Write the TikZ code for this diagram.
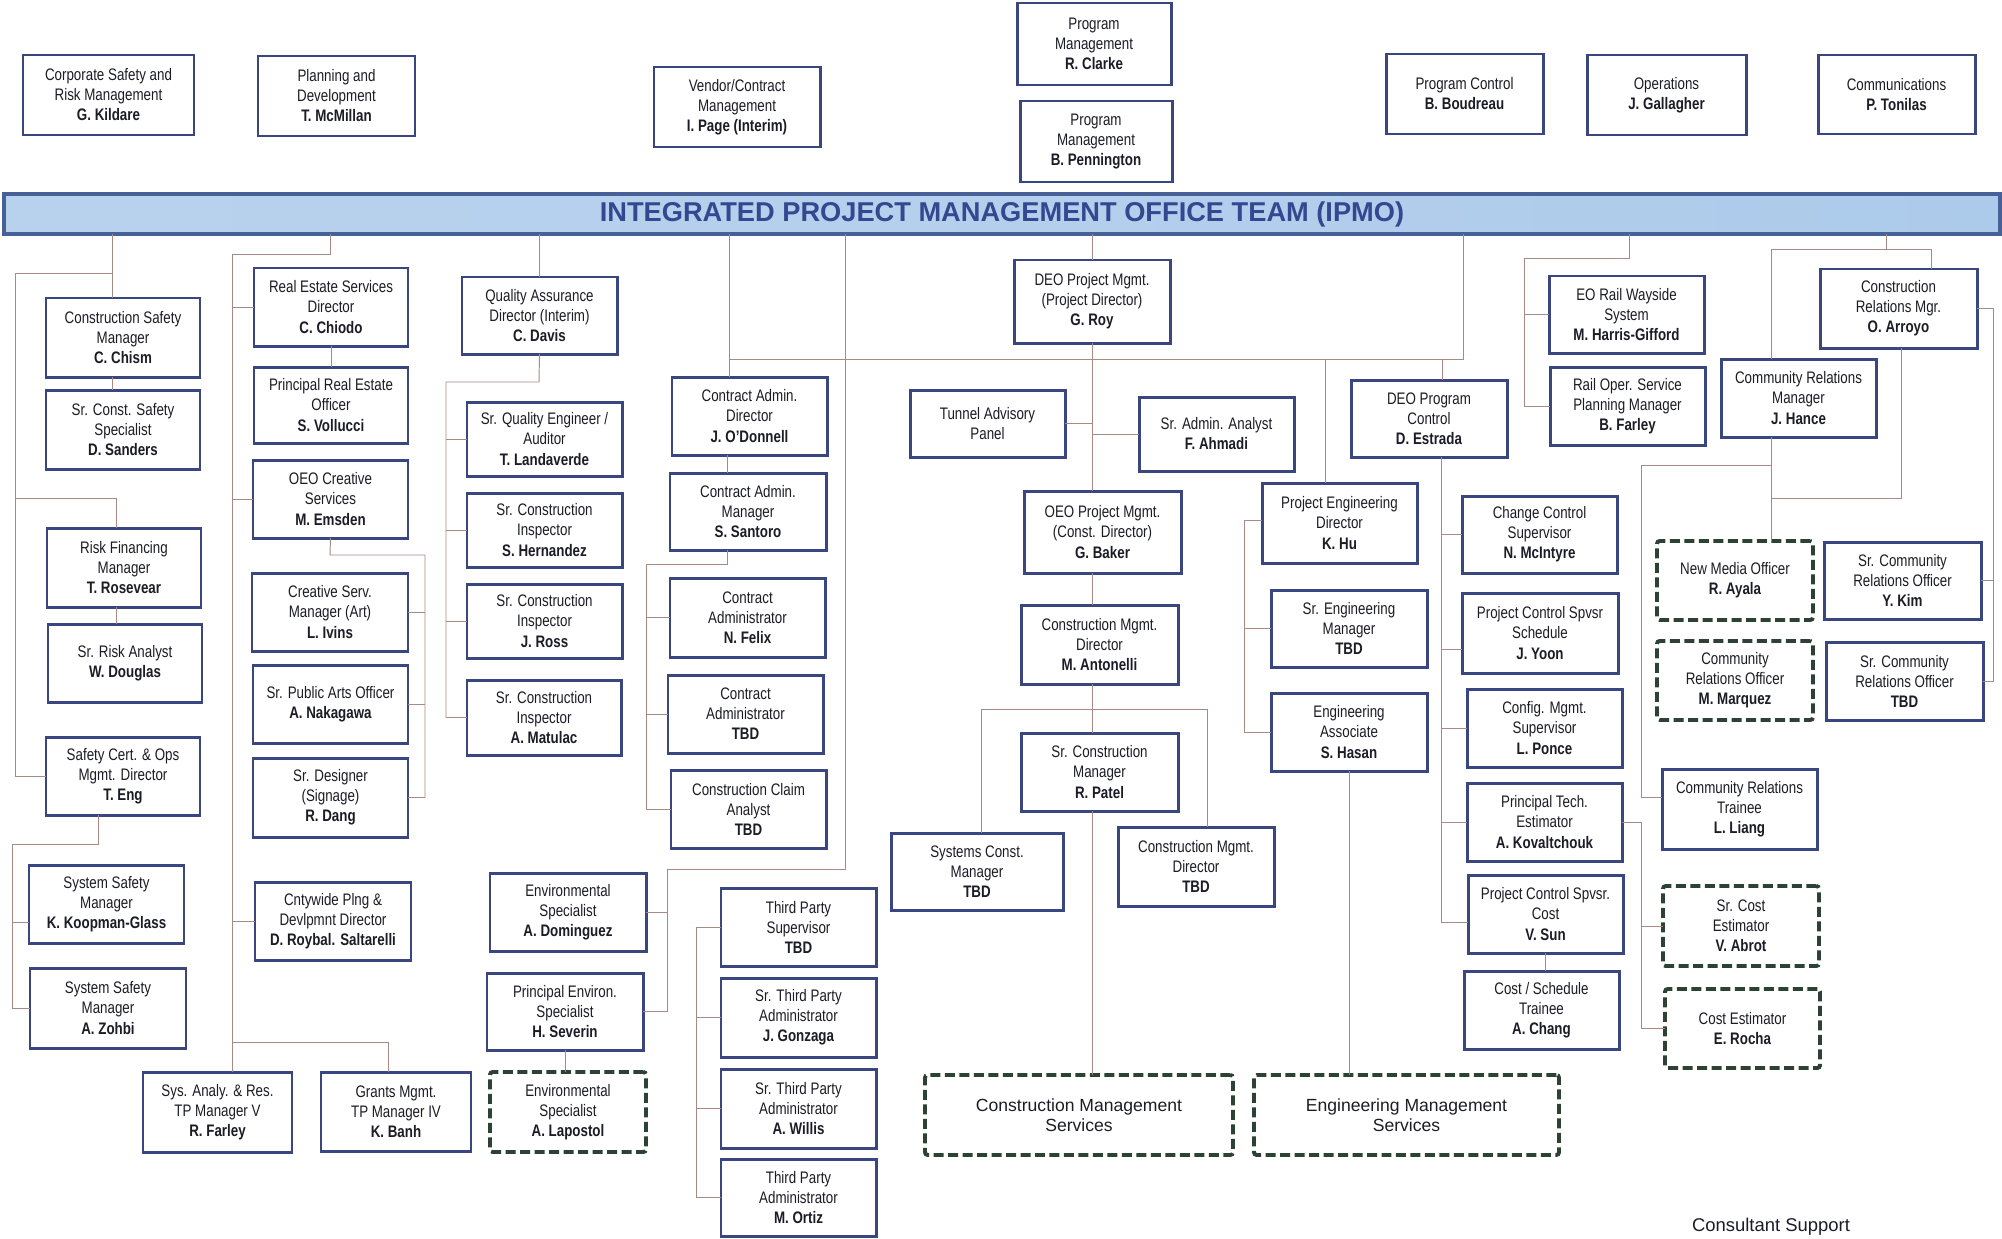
\documentclass[tikz,border=0pt]{standalone}
\usepackage{fontspec}
\setmainfont{Liberation Sans}[FakeStretch=0.8]
\newfontfamily\widesans{Liberation Sans}
\definecolor{boxline}{RGB}{58,70,128}
\definecolor{dashline}{RGB}{45,66,52}
\definecolor{linkcol}{RGB}{168,138,132}
\definecolor{txt}{RGB}{28,28,38}
\definecolor{barfill}{RGB}{172,202,234}
\definecolor{barline}{RGB}{72,96,152}
\definecolor{bartext}{RGB}{52,72,145}

% a box given by its corners in pixel units: style, name, x1, y1, x2, y2, text
\newcommand\orgbox[7][box]{%
  \pgfmathsetmacro\obw{(#5-#3)*0.02}%
  \pgfmathsetmacro\obh{(#6-#4)*0.02}%
  \node[#1,minimum width=\obw cm,minimum height=\obh cm] (#2) at ({(#3+#5)/2},{(#4+#6)/2}) {#7};}

\tikzset{
  box/.style={draw=boxline,line width=1.7pt,fill=white,inner sep=0pt,outer sep=0pt,
    align=center,text=txt,font=\fontsize{9.5}{11.4}\selectfont},
  dbox/.style={box,draw=dashline,line width=2.2pt,dash pattern=on 0.2cm off 0.09cm,rounded corners=1.5pt},
  bigdbox/.style={dbox,font=\widesans\fontsize{10}{11.6}\selectfont},
  barbox/.style={draw=barline,line width=1.8pt,left color=barfill!85!white,right color=barfill,
    middle color=barfill!90!white,inner sep=0pt,outer sep=0pt,text=bartext,
    font=\widesans\bfseries\fontsize{15.5}{17}\selectfont},
  link/.style={draw=linkcol,line width=0.55pt}
}

\begin{document}
\begin{tikzpicture}[x=0.02cm,y=-0.02cm]
\useasboundingbox[fill=white] (0,0) rectangle (2002,1238);

% ---- top row ----
\orgbox{corp}{23}{55}{194}{135}{Corporate Safety and\\Risk Management\\\textbf{G. Kildare}}
\orgbox{plan}{258}{56}{415}{136}{Planning and\\Development\\\textbf{T. McMillan}}
\orgbox{vend}{654}{67}{820}{147}{Vendor/Contract\\Management\\\textbf{I. Page (Interim)}}
\orgbox{pmc}{1017}{3}{1171}{85}{Program\\Management\\\textbf{R. Clarke}}
\orgbox{pmp}{1020}{101}{1172}{182}{Program\\Management\\\textbf{B. Pennington}}
\orgbox{pctl}{1386}{54}{1543}{134}{Program Control\\\textbf{B. Boudreau}}
\orgbox{ops}{1587}{55}{1746}{135}{Operations\\\textbf{J. Gallagher}}
\orgbox{comm}{1818}{55}{1975}{134}{Communications\\\textbf{P. Tonilas}}

% ---- team bar ----
\orgbox[barbox]{bar}{4}{194}{2000}{234}{INTEGRATED PROJECT MANAGEMENT OFFICE TEAM (IPMO)}

% ---- safety and risk column ----
\orgbox{chism}{46}{298}{200}{377}{Construction Safety\\Manager\\\textbf{C. Chism}}
\orgbox{sand}{46}{390}{200}{469}{Sr. Const. Safety\\Specialist\\\textbf{D. Sanders}}
\orgbox{rosv}{47}{528}{201}{607}{Risk Financing\\Manager\\\textbf{T. Rosevear}}
\orgbox{doug}{48}{624}{202}{702}{Sr. Risk Analyst\\\textbf{W. Douglas}}
\orgbox{eng}{46}{737}{200}{815}{Safety Cert. \& Ops\\Mgmt. Director\\\textbf{T. Eng}}
\orgbox{koop}{29}{865}{184}{943}{System Safety\\Manager\\\textbf{K. Koopman-Glass}}
\orgbox{zohb}{30}{968}{186}{1048}{System Safety\\Manager\\\textbf{A. Zohbi}}
\orgbox{sysa}{143}{1072}{292}{1152}{Sys. Analy. \& Res.\\TP Manager V\\\textbf{R. Farley}}
\orgbox{grnt}{321}{1072}{471}{1151}{Grants Mgmt.\\TP Manager IV\\\textbf{K. Banh}}

% ---- real estate and creative column ----
\orgbox{rede}{254}{268}{408}{346}{Real Estate Services\\Director\\\textbf{C. Chiodo}}
\orgbox{preo}{254}{367}{408}{443}{Principal Real Estate\\Officer\\\textbf{S. Vollucci}}
\orgbox{emsd}{253}{460}{408}{538}{OEO Creative\\Services\\\textbf{M. Emsden}}
\orgbox{ivin}{252}{573}{408}{651}{Creative Serv.\\Manager (Art)\\\textbf{L. Ivins}}
\orgbox{naka}{253}{665}{408}{743}{Sr. Public Arts Officer\\\textbf{A. Nakagawa}}
\orgbox{dang}{253}{758}{408}{837}{Sr. Designer\\(Signage)\\\textbf{R. Dang}}
\orgbox{cnty}{255}{882}{411}{960}{Cntywide Plng \&\\Devlpmnt Director\\\textbf{D. Roybal. Saltarelli}}

% ---- quality and environmental column ----
\orgbox{qa}{462}{277}{617}{354}{Quality Assurance\\Director (Interim)\\\textbf{C. Davis}}
\orgbox{land}{467}{402}{622}{476}{Sr. Quality Engineer /\\Auditor\\\textbf{T. Landaverde}}
\orgbox{hern}{467}{493}{622}{567}{Sr. Construction\\Inspector\\\textbf{S. Hernandez}}
\orgbox{ross}{467}{584}{622}{658}{Sr. Construction\\Inspector\\\textbf{J. Ross}}
\orgbox{matu}{467}{680}{621}{755}{Sr. Construction\\Inspector\\\textbf{A. Matulac}}
\orgbox{domi}{490}{873}{646}{951}{Environmental\\Specialist\\\textbf{A. Dominguez}}
\orgbox{sevr}{487}{973}{643}{1050}{Principal Environ.\\Specialist\\\textbf{H. Severin}}
\orgbox[dbox]{lapo}{490}{1072}{646}{1152}{Environmental\\Specialist\\\textbf{A. Lapostol}}

% ---- contract administration and third party column ----
\orgbox{cadd}{672}{377}{827}{455}{Contract Admin.\\Director\\\textbf{J. O'Donnell}}
\orgbox{cadm}{670}{473}{826}{550}{Contract Admin.\\Manager\\\textbf{S. Santoro}}
\orgbox{felx}{670}{578}{825}{657}{Contract\\Administrator\\\textbf{N. Felix}}
\orgbox{catb}{668}{675}{823}{753}{Contract\\Administrator\\\textbf{TBD}}
\orgbox{clam}{671}{770}{826}{848}{Construction Claim\\Analyst\\\textbf{TBD}}
\orgbox{tps}{721}{888}{876}{966}{Third Party\\Supervisor\\\textbf{TBD}}
\orgbox{gonz}{721}{978}{876}{1057}{Sr. Third Party\\Administrator\\\textbf{J. Gonzaga}}
\orgbox{will}{721}{1069}{876}{1148}{Sr. Third Party\\Administrator\\\textbf{A. Willis}}
\orgbox{orti}{721}{1159}{876}{1236}{Third Party\\Administrator\\\textbf{M. Ortiz}}

% ---- project management centre ----
\orgbox{roy}{1014}{260}{1170}{343}{DEO Project Mgmt.\\(Project Director)\\\textbf{G. Roy}}
\orgbox{tunl}{910}{390}{1065}{457}{Tunnel Advisory\\Panel}
\orgbox{ahma}{1139}{397}{1294}{471}{Sr. Admin. Analyst\\\textbf{F. Ahmadi}}
\orgbox{bakr}{1024}{491}{1181}{573}{OEO Project Mgmt.\\(Const. Director)\\\textbf{G. Baker}}
\orgbox{anto}{1021}{605}{1178}{684}{Construction Mgmt.\\Director\\\textbf{M. Antonelli}}
\orgbox{patl}{1021}{733}{1178}{811}{Sr. Construction\\Manager\\\textbf{R. Patel}}
\orgbox{sysc}{891}{833}{1063}{910}{Systems Const.\\Manager\\\textbf{TBD}}
\orgbox{cmdt}{1118}{827}{1274}{906}{Construction Mgmt.\\Director\\\textbf{TBD}}
\orgbox[bigdbox]{cms}{925}{1075}{1233}{1155}{Construction Management\\Services}
\orgbox[bigdbox]{ems}{1254}{1075}{1559}{1155}{Engineering Management\\Services}

% ---- engineering ----
\orgbox{khu}{1262}{483}{1417}{563}{Project Engineering\\Director\\\textbf{K. Hu}}
\orgbox{seng}{1271}{590}{1427}{667}{Sr. Engineering\\Manager\\\textbf{TBD}}
\orgbox{hasn}{1271}{693}{1427}{771}{Engineering\\Associate\\\textbf{S. Hasan}}

% ---- program control ----
\orgbox{estr}{1351}{380}{1507}{457}{DEO Program\\Control\\\textbf{D. Estrada}}
\orgbox{mcin}{1462}{496}{1617}{573}{Change Control\\Supervisor\\\textbf{N. McIntyre}}
\orgbox{yoon}{1462}{593}{1618}{673}{Project Control Spvsr\\Schedule\\\textbf{J. Yoon}}
\orgbox{ponc}{1467}{689}{1622}{767}{Config. Mgmt.\\Supervisor\\\textbf{L. Ponce}}
\orgbox{kova}{1467}{783}{1622}{861}{Principal Tech.\\Estimator\\\textbf{A. Kovaltchouk}}
\orgbox{vsun}{1468}{875}{1623}{953}{Project Control Spvsr.\\Cost\\\textbf{V. Sun}}
\orgbox{chng}{1464}{971}{1619}{1049}{Cost / Schedule\\Trainee\\\textbf{A. Chang}}
\orgbox[dbox]{abrt}{1663}{886}{1819}{966}{Sr. Cost\\Estimator\\\textbf{V. Abrot}}
\orgbox[dbox]{rcha}{1665}{989}{1820}{1068}{Cost Estimator\\\textbf{E. Rocha}}

% ---- rail and community relations ----
\orgbox{hgif}{1549}{276}{1704}{353}{EO Rail Wayside\\System\\\textbf{M. Harris-Gifford}}
\orgbox{farl}{1550}{367}{1705}{445}{Rail Oper. Service\\Planning Manager\\\textbf{B. Farley}}
\orgbox{hanc}{1721}{359}{1876}{437}{Community Relations\\Manager\\\textbf{J. Hance}}
\orgbox{arry}{1820}{269}{1977}{348}{Construction\\Relations Mgr.\\\textbf{O. Arroyo}}
\orgbox[dbox]{ayal}{1657}{541}{1813}{620}{New Media Officer\\\textbf{R. Ayala}}
\orgbox[dbox]{marq}{1657}{641}{1813}{720}{Community\\Relations Officer\\\textbf{M. Marquez}}
\orgbox{ykim}{1824}{542}{1981}{619}{Sr. Community\\Relations Officer\\\textbf{Y. Kim}}
\orgbox{crtb}{1826}{642}{1983}{720}{Sr. Community\\Relations Officer\\\textbf{TBD}}
\orgbox{lian}{1662}{769}{1817}{849}{Community Relations\\Trainee\\\textbf{L. Liang}}

\node[text=txt,font=\widesans\fontsize{10.5}{12}\selectfont] (cons) at (1771,1227) {Consultant Support};

% ---- junction points of the connectors ----
\coordinate (j1) at (112,273);  \coordinate (j1l) at (15,273);
\coordinate (j2) at (15,498);   \coordinate (j2r) at (116,498);
\coordinate (j3) at (98,844);   \coordinate (j3l) at (12,844);
\coordinate (j4) at (12,922);
\coordinate (r1) at (330,254);  \coordinate (r2) at (232,254);
\coordinate (r3) at (232,1042); \coordinate (r4) at (388,1042);
\coordinate (e1) at (330,555);  \coordinate (e2) at (425,555);
\coordinate (q1) at (539,382);  \coordinate (q2) at (446,382);
\coordinate (h1) at (729,359);  \coordinate (h2) at (1463,359);
\coordinate (h3) at (1325,359); \coordinate (h4) at (1442,359);
\coordinate (c1) at (727,564);  \coordinate (c2) at (646,564);
\coordinate (v1) at (845,869);  \coordinate (v2) at (667,869);
\coordinate (t1) at (696,927);
\coordinate (m1) at (981,709);  \coordinate (m2) at (1207,709);
\coordinate (k1) at (1244,520);
\coordinate (p1) at (1441,922); \coordinate (p2) at (1441,649);
\coordinate (s1) at (1641,465); \coordinate (s2) at (1771,465);
\coordinate (s3) at (1641,797); \coordinate (s4) at (1901,498);
\coordinate (a1) at (1993,312);
\coordinate (g1) at (1886,249); \coordinate (g2) at (1771,249); \coordinate (g3) at (1931,249);
\coordinate (w1) at (1629,258); \coordinate (w2) at (1524,258);

% safety and risk
\draw[link] (bar.south -| j1) -- (chism.north -| j1);
\draw[link] (j1) -- (j1l) -- (j1l |- eng.west) -- (eng.west);
\draw[link] (j2) -- (j2r) -- (rosv.north -| j2r);
\draw[link] (chism.south -| j1) -- (sand.north -| j1);
\draw[link] (rosv.south -| j2r) -- (doug.north -| j2r);
\draw[link] (eng.south -| j3) -- (j3) -- (j3l) -- (j3l |- zohb.west) -- (zohb.west);
\draw[link] (j4) -- (j4 -| koop.west);
% real estate and creative
\draw[link] (bar.south -| r1) -- (r1) -- (r2) -- (r2 |- sysa.north);
\draw[link] (r2 |- rede.west) -- (rede.west);
\draw[link] (r2 |- emsd.west) -- (emsd.west);
\draw[link] (r2 |- cnty.west) -- (cnty.west);
\draw[link] (r3) -- (r4) -- (r4 |- grnt.north);
\draw[link] (rede.south) -- (preo.north);
\draw[link] (emsd.south) -- (e1) -- (e2) -- (e2 |- dang.east) -- (dang.east);
\draw[link] (e2 |- ivin.east) -- (ivin.east);
\draw[link] (e2 |- naka.east) -- (naka.east);
% quality assurance
\draw[link] (bar.south -| qa.north) -- (qa.north);
\draw[link] (qa.south) -- (q1) -- (q2) -- (q2 |- matu.west) -- (matu.west);
\draw[link] (q2 |- land.west) -- (land.west);
\draw[link] (q2 |- hern.west) -- (hern.west);
\draw[link] (q2 |- ross.west) -- (ross.west);
% main cross line
\draw[link] (bar.south -| h1) -- (cadd.north -| h1);
\draw[link] (h1) -- (h2) -- (bar.south -| h2);
\draw[link] (h3) -- (khu.north -| h3);
\draw[link] (h4) -- (estr.north -| h4);
% contract administration
\draw[link] (cadd.south -| c1) -- (cadm.north -| c1);
\draw[link] (cadm.south -| c1) -- (c1) -- (c2) -- (c2 |- clam.west) -- (clam.west);
\draw[link] (c2 |- felx.west) -- (felx.west);
\draw[link] (c2 |- catb.west) -- (catb.west);
% environmental
\draw[link] (bar.south -| v1) -- (v1) -- (v2) -- (v2 |- sevr.east) -- (sevr.east);
\draw[link] (v2 |- domi.east) -- (domi.east);
\draw[link] (sevr.south) -- (lapo.north -| sevr.south);
% third party
\draw[link] (tps.west) -- (tps.west -| t1) -- (orti.west -| t1) -- (orti.west);
\draw[link] (gonz.west -| t1) -- (gonz.west);
\draw[link] (will.west -| t1) -- (will.west);
% project management centre
\draw[link] (bar.south -| roy.north) -- (roy.north);
\draw[link] (roy.south) -- (bakr.north -| roy.south);
\draw[link] (tunl.east) -- (tunl.east -| roy.south);
\draw[link] (ahma.west) -- (ahma.west -| roy.south);
\draw[link] (bakr.south -| roy.south) -- (anto.north -| roy.south);
\draw[link] (anto.south -| roy.south) -- (patl.north -| roy.south);
\draw[link] (patl.south -| roy.south) -- (cms.north -| roy.south);
\draw[link] (sysc.north -| m1) -- (m1) -- (m2) -- (cmdt.north -| m2);
% engineering
\draw[link] (khu.west |- k1) -- (k1) -- (k1 |- hasn.west) -- (hasn.west);
\draw[link] (k1 |- seng.west) -- (seng.west);
\draw[link] (hasn.south) -- (ems.north -| hasn.south);
% program control
\draw[link] (estr.south -| p1) -- (p1) -- (p1 -| vsun.west);
\draw[link] (p1 |- mcin.west) -- (mcin.west);
\draw[link] (p2) -- (p2 -| yoon.west);
\draw[link] (p1 |- ponc.west) -- (ponc.west);
\draw[link] (p1 |- kova.west) -- (kova.west);
\draw[link] (vsun.south) -- (chng.north -| vsun.south);
\draw[link] (kova.east) -- (kova.east -| s1) -- (s1 |- rcha.west) -- (rcha.west);
\draw[link] (s1 |- abrt.west) -- (abrt.west);
% community relations
\draw[link] (bar.south -| g1) -- (g1);
\draw[link] (hanc.north -| g2) -- (g2) -- (g3) -- (arry.north -| g3);
\draw[link] (hanc.south -| s2) -- (ayal.north -| s2);
\draw[link] (s2) -- (s1) -- (s3) -- (s3 -| lian.west);
\draw[link] (arry.south -| s4) -- (s4) -- (s4 -| s2);
\draw[link] (arry.east) -- (arry.east -| a1) -- (a1 |- crtb.east) -- (crtb.east);
\draw[link] (a1 |- ykim.east) -- (ykim.east);
% rail
\draw[link] (bar.south -| w1) -- (w1) -- (w2) -- (w2 |- farl.west) -- (farl.west);
\draw[link] (w2 |- hgif.west) -- (hgif.west);
\end{tikzpicture}
\end{document}
